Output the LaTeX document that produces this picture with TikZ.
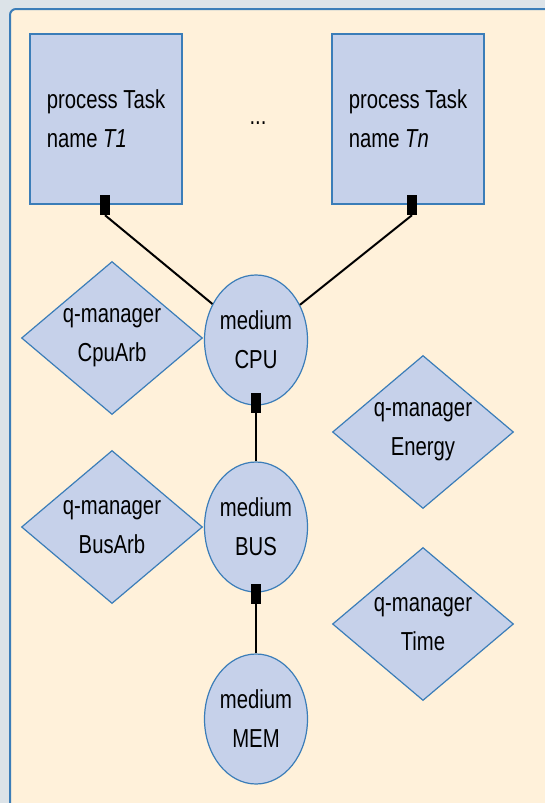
\documentclass[tikz,border=0pt]{standalone}
\usepackage{fontspec}
\newfontfamily\cf[FakeStretch=0.78]{Liberation Sans}
\usetikzlibrary{shapes.geometric}
\definecolor{outerbg}{HTML}{DCE3E8}
\definecolor{cream}{HTML}{FFF1DA}
\definecolor{shapefill}{HTML}{C6D1EA}
\definecolor{edgeblue}{HTML}{3B7DB8}
\tikzset{
  lbl/.style={font=\cf\fontsize{26}{39}\selectfont, text=black},
  taskbox/.style={lbl, draw=edgeblue, line width=1.8pt, fill=shapefill, minimum width=152pt, minimum height=170pt, inner sep=0pt, align=left},
  medium/.style={lbl, ellipse, draw=edgeblue, line width=1.2pt, fill=shapefill, minimum width=103pt, minimum height=130pt, inner sep=0pt, align=center},
  qman/.style={lbl, diamond, aspect=1.18, draw=edgeblue, line width=1.2pt, fill=shapefill, minimum width=181pt, minimum height=153pt, inner sep=0pt, align=center},
  port/.style={fill=black, draw=none, minimum width=10pt, minimum height=20pt, inner sep=0pt},
  conn/.style={draw=black, line width=2pt}
}
\begin{document}
\begin{tikzpicture}[x=1pt,y=-1pt]
\useasboundingbox (0,0) rectangle (545,803);
\fill[outerbg] (0,0) rectangle (545,803);
\draw[edgeblue, line width=2pt, fill=cream, rounded corners=6pt] (10,9) rectangle (560,820);
% tasks
\node[taskbox] (t1) at (106,119) {process Task\\name \textit{T1}};
\node[taskbox] (tn) at (408,119) {process Task\\name \textit{Tn}};
\node[lbl, anchor=base] (dots) at (258,124) {...};
% media
\node[medium] (cpu) at (256,340) {medium\\CPU};
\node[medium] (bus) at (256,527) {medium\\BUS};
\node[medium] (mem) at (256,719) {medium\\MEM};
% q-managers
\node[qman] (cpuarb) at (112,338) {q-manager\\CpuArb};
\node[qman] (busarb) at (112,527) {q-manager\\BusArb};
\node[qman] (energy) at (423,432) {q-manager\\Energy};
\node[qman] (time) at (423,624) {q-manager\\Time};
% ports
\node[port] (p1) at (105,205) {};
\node[port] (pn) at (412,205) {};
\node[port] (pcpu) at (256,403) {};
\node[port] (pbus) at (256,594) {};
% connectors
\draw[conn] (p1.south) -- (cpu);
\draw[conn] (pn.south) -- (cpu);
\draw[conn, line width=1.6pt] (pcpu.south) -- (bus.north);
\draw[conn, line width=1.6pt] (pbus.south) -- (mem.north);
\end{tikzpicture}
\end{document}
